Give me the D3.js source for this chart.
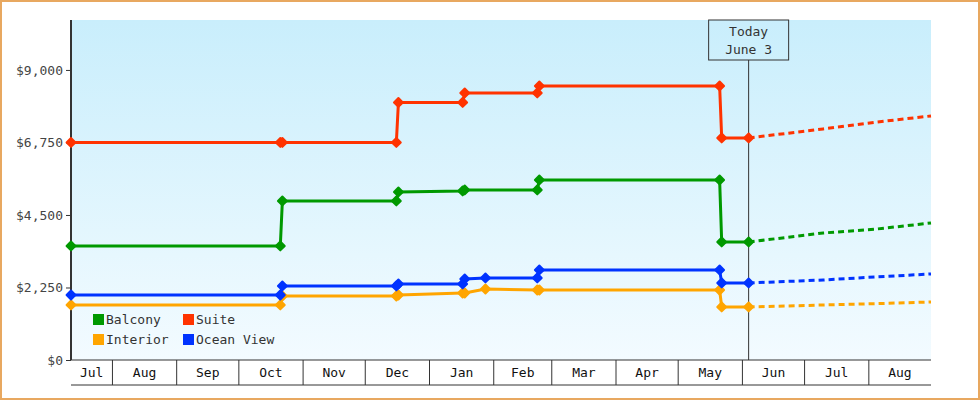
<!DOCTYPE html>
<html><head><meta charset="utf-8">
<script src="https://cdn.jsdelivr.net/npm/d3@7"></script>
<style>body{margin:0;background:#fff}svg text{font-family:"DejaVu Sans Mono",monospace}</style>
</head><body><div id="chart"></div>
<script>
// data
const startDate = '2012-07-12', endDate = '2013-08-31', todayDate = '2013-06-04'
const yTicks = [0, 2250, 4500, 6750, 9000]
const seriesNames  = ['Balcony', 'Suite', 'Interior', 'Ocean View']
const seriesColors = ['#009900', '#ff3300', '#ffa500', '#0033ff']
const dates = ['2012-07-12','2012-10-21','2012-10-22','2012-12-16','2012-12-17','2013-01-17','2013-01-18','2013-01-28','2013-02-22','2013-02-23','2013-05-21','2013-05-22','2013-06-04']
const balcony   = [3538,3538,4934,4934,5214,5245,5276,null,5276,5586,5586,3662,3662]
const suite     = [6750,6750,6750,6750,7991,7991,8286,null,8286,8503,8503,6890,6890]
const interior  = [1707,1707,1986,1986,2017,2079,2079,2203,2172,2172,2172,1645,1645]
const oceanView = [2017,2017,2297,2297,2359,2359,2514,2545,2545,2793,2793,2390,2390]
const fcDates = ['2013-06-04','2013-07-10','2013-08-05','2013-08-31']
const fcBalcony   = [3662,3941,4066,4252]
const fcSuite     = [6890,7169,7386,7572]
const fcInterior  = [1645,1707,1750,1800]
const fcOceanView = [2390,2483,2580,2669]

const W = 980, H = 400
const m = {left: 71, right: 49, top: 20, bottom: 40}
const parse = d3.timeParse('%Y-%m-%d')
const svg = d3.select('#chart').append('svg').attr('width', W).attr('height', H)

const x = d3.scaleTime().domain([parse(startDate), parse(endDate)]).range([m.left, W - m.right])
const y = d3.scaleLinear().domain([0, 10550]).range([H - m.bottom, m.top])

const grad = svg.append('defs').append('linearGradient').attr('id', 'bg').attr('x1', 0).attr('x2', 0).attr('y1', 0).attr('y2', 1)
grad.append('stop').attr('offset', 0).attr('stop-color', '#c9eefc')
grad.append('stop').attr('offset', 1).attr('stop-color', '#f3fbff')

svg.append('rect').attr('x', 1).attr('y', 1).attr('width', W - 2).attr('height', H - 2)
  .attr('fill', '#fff').attr('stroke', '#e8a860').attr('stroke-width', 2)
svg.append('rect').attr('x', m.left).attr('y', m.top).attr('width', W - m.left - m.right)
  .attr('height', H - m.top - m.bottom).attr('fill', 'url(#bg)')

// y axis
const yAxis = svg.append('g').attr('transform', `translate(${m.left},0)`)
  .call(d3.axisLeft(y).tickValues(yTicks).tickSize(5).tickFormat(d => '$' + d3.format(',')(d)))
yAxis.select('.domain').remove()
yAxis.selectAll('line').attr('stroke', '#333')
yAxis.selectAll('text').attr('font-size', 13).attr('fill', '#444')
svg.append('line').attr('x1', m.left).attr('x2', m.left).attr('y1', m.top).attr('y2', H - m.bottom)
  .attr('stroke', '#333').attr('stroke-width', 2)

// month boxes
const x0 = m.left, x1 = W - m.right, by0 = H - m.bottom, by1 = H - 15
const bounds = [x0].concat(d3.timeMonth.range(d3.timeMonth.ceil(x.domain()[0]), x.domain()[1]).map(x)).concat([x1])
const months = d3.timeMonth.range(d3.timeMonth.floor(x.domain()[0]), x.domain()[1])
const gx = svg.append('g')
gx.append('line').attr('x1', x0).attr('x2', x1).attr('y1', by0).attr('y2', by0).attr('stroke', '#333')
gx.append('line').attr('x1', x0).attr('x2', x1).attr('y1', by1).attr('y2', by1).attr('stroke', '#333')
gx.selectAll('.sep').data(bounds.slice(1, -1)).join('line')
  .attr('x1', d => d).attr('x2', d => d).attr('y1', by0).attr('y2', by1).attr('stroke', '#333')
gx.selectAll('text').data(months).join('text')
  .attr('x', (d, i) => (bounds[i] + bounds[i + 1]) / 2).attr('y', by0 + 17)
  .attr('text-anchor', 'middle').attr('font-size', 13).attr('fill', '#111')
  .text(d3.timeFormat('%b'))

// today marker
const tx = x(parse(todayDate))
svg.append('line').attr('x1', tx).attr('x2', tx).attr('y1', 60).attr('y2', by0).attr('stroke', '#333')
svg.append('rect').attr('x', tx - 40).attr('y', m.top).attr('width', 80).attr('height', 40)
  .attr('fill', 'none').attr('stroke', '#333')
svg.append('text').attr('x', tx).attr('y', 36).attr('text-anchor', 'middle').attr('font-size', 13).attr('fill', '#333').text('Today')
svg.append('text').attr('x', tx).attr('y', 54).attr('text-anchor', 'middle').attr('font-size', 13).attr('fill', '#333').text('June 3')

// series
const actual = [balcony, suite, interior, oceanView]
const forecast = [fcBalcony, fcSuite, fcInterior, fcOceanView]
const line = d3.line().defined(d => d[1] != null).x(d => x(parse(d[0]))).y(d => y(d[1]))
const order = [2, 3, 0, 1]
order.forEach(i => {
  const pts = dates.map((d, j) => [d, actual[i][j]])
  const fc = fcDates.map((d, j) => [d, forecast[i][j]])
  svg.append('path').datum(fc).attr('d', line).attr('fill', 'none')
    .attr('stroke', seriesColors[i]).attr('stroke-width', 3).attr('stroke-dasharray', '6,4')
  svg.append('path').datum(pts.filter(p => p[1] != null)).attr('d', line).attr('fill', 'none')
    .attr('stroke', seriesColors[i]).attr('stroke-width', 3)
  svg.append('g').selectAll('path').data(pts.filter(p => p[1] != null)).join('path')
    .attr('d', d3.symbol(d3.symbolDiamond2, 50))
    .attr('transform', d => `translate(${x(parse(d[0]))},${y(d[1])})`)
    .attr('fill', seriesColors[i]).attr('stroke', seriesColors[i]).attr('stroke-width', 2).attr('stroke-linejoin', 'round')
})

// legend
const leg = svg.append('g')
seriesNames.forEach((n, i) => {
  const lx = 93 + (i % 2) * 90, ly = 314 + Math.floor(i / 2) * 20
  leg.append('rect').attr('x', lx).attr('y', ly).attr('width', 11).attr('height', 11).attr('fill', seriesColors[i])
  leg.append('text').attr('x', lx + 13).attr('y', ly + 10).attr('font-size', 13).attr('fill', '#333').text(n)
})
</script></body></html>
